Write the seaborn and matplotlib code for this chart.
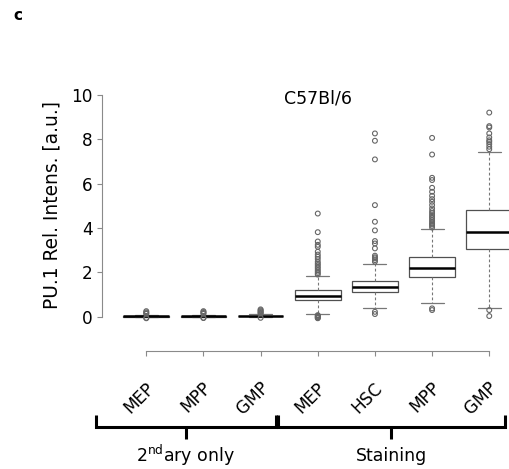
import pandas as pd
import numpy as np
import matplotlib
matplotlib.use('Agg')
import matplotlib.pyplot as plt
import seaborn as sns

# groups in plotting order
groups = ['sec_MEP', 'sec_MPP', 'sec_GMP', 'st_MEP', 'st_HSC', 'st_MPP', 'st_GMP']
tick_labels = ['MEP', 'MPP', 'GMP', 'MEP', 'HSC', 'MPP', 'GMP']

# box summary (lower whisker, q1, median, q3, upper whisker)
whis_lo = [-0.03, -0.03, -0.02, 0.10, 0.375, 0.62, 0.375]
q1 = [0.00, 0.00, 0.01, 0.75, 1.10, 1.80, 3.03]
median = [0.02, 0.02, 0.03, 0.95, 1.32, 2.19, 3.84]
q3 = [0.04, 0.04, 0.05, 1.20, 1.62, 2.67, 4.83]
whis_hi = [0.09, 0.09, 0.11, 1.85, 2.37, 3.95, 7.43]

# outliers
fliers = {
    'sec_MEP': [0.25, 0.20, 0.16, 0.13, -0.05, -0.07],
    'sec_MPP': [0.25, 0.21, 0.17, 0.13, -0.05, -0.06],
    'sec_GMP': [0.33, 0.29, 0.25, 0.21, 0.17, 0.14, -0.05],
    'st_MEP': [4.65, 3.81, 3.39, 3.24, 3.15, 2.93, 2.80, 2.70, 2.60, 2.48,
               2.40, 2.33, 2.25, 2.18, 2.10, 2.03, 1.96, 1.90,
               0.07, 0.04, 0.01, -0.02, -0.05, -0.07],
    'st_HSC': [8.26, 7.93, 7.09, 5.03, 4.28, 3.89, 3.41, 3.30, 3.08, 2.75,
               2.68, 2.63, 2.55, 2.48, 0.22, 0.12],
    'st_MPP': [8.06, 7.31, 6.26, 6.16, 5.81, 5.63, 5.45, 5.30, 5.18, 5.03,
               4.88, 4.76, 4.67, 4.58, 4.50, 4.43, 4.35, 4.28, 4.20, 4.16,
               4.09, 4.02, 0.375, 0.30],
    'st_GMP': [9.20, 8.59, 8.53, 8.26, 8.08, 7.95, 7.88, 7.78, 7.66, 7.55,
               0.30, 0.03],
}

group_names = ['2$^{\\mathrm{nd}}$ary only', 'Staining']

sns.set_style('white')
plt.rcParams['font.family'] = ['DejaVu Sans']
plt.rcParams['mathtext.fontset'] = 'dejavusans'
plt.rcParams['text.color'] = 'black'
plt.rcParams['xtick.color'] = 'black'
plt.rcParams['ytick.color'] = 'black'

FS = 12.5

# five summary values per box -> seaborn recomputes the same quartiles
rows = []
for i, g in enumerate(groups):
    for v in [whis_lo[i], q1[i], median[i], q3[i], whis_hi[i]]:
        rows.append({'group': g, 'value': v})
box_df = pd.DataFrame(rows)

fl_rows = []
for i, g in enumerate(groups):
    for v in fliers[g]:
        fl_rows.append({'pos': i, 'value': v})
fl_df = pd.DataFrame(fl_rows)

fig = plt.figure(figsize=(5.09, 4.69), dpi=100)
ax = fig.add_axes([0.1998, 0.3058, 0.849, 0.5109])

axis_gray = '#8a8a8a'
sns.boxplot(data=box_df, x='group', y='value', order=groups, ax=ax,
            width=0.8, whis=1.5, showfliers=False, color='white',
            linecolor='#4a4a4a', linewidth=0.9,
            boxprops=dict(facecolor='white', edgecolor='#505050', linewidth=0.9),
            medianprops=dict(color='black', linewidth=1.8),
            whiskerprops=dict(color='#777777', linewidth=0.8, linestyle=(0, (2.5, 2))),
            capprops=dict(color='#777777', linewidth=0.9))

sns.scatterplot(data=fl_df, x='pos', y='value', ax=ax, marker='o', s=12,
                color='none', edgecolor='#666666', linewidth=0.8, legend=False,
                zorder=3)

ax.set_xlim(-0.78, 6.78)
ax.set_ylim(-0.4, 10.4)
ax.set_yticks([0, 2, 4, 6, 8, 10])
ax.set_xticks(range(len(groups)))
ax.set_xticklabels([])
ax.set_xlabel('')
ax.set_ylabel('')

for s in ['top', 'right']:
    ax.spines[s].set_visible(False)
ax.spines['left'].set_bounds(0, 10)
ax.spines['bottom'].set_bounds(0, 6)
ax.spines['bottom'].set_position(('outward', 18.3))
for s in ['left', 'bottom']:
    ax.spines[s].set_color(axis_gray)
    ax.spines[s].set_linewidth(0.8)
ax.tick_params(axis='both', direction='out', length=3.6, width=0.8,
               color=axis_gray, labelcolor='black', labelsize=12.2, pad=3)
ax.tick_params(axis='x', bottom=True)
ax.tick_params(axis='y', left=True)

# rotated category labels
for i, lbl in enumerate(tick_labels):
    ax.text(i + 0.09, -3.08, lbl, rotation=45, rotation_mode='anchor',
            ha='right', va='center', fontsize=12.2, clip_on=False)

# group brackets
brackets = [(-0.876, 2.264), (2.30, 6.27)]
for (x0, x1), name in zip(brackets, group_names):
    xm = (x0 + x1) / 2
    ax.plot([x0, x0, x1, x1], [-4.43, -4.95, -4.95, -4.43], color='black',
            lw=2.2, clip_on=False, solid_capstyle='butt', solid_joinstyle='miter')
    ax.plot([xm, xm], [-4.95, -5.51], color='black', lw=2.2, clip_on=False,
            solid_capstyle='butt')
    ax.text(xm, -6.27, name, ha='center', va='center', fontsize=FS,
            clip_on=False)

ax.text(3, 9.85, 'C57Bl/6', ha='center', va='center', fontsize=FS)
fig.text(52 / 509, 1 - 205 / 469, 'PU.1 Rel. Intens. [a.u.]', rotation=90,
         ha='center', va='center', fontsize=13.4)
fig.text(13 / 509, 1 - 16 / 469, 'c', fontsize=11, fontweight='bold',
         ha='left', va='center')

fig.savefig('out.png', dpi=100)
